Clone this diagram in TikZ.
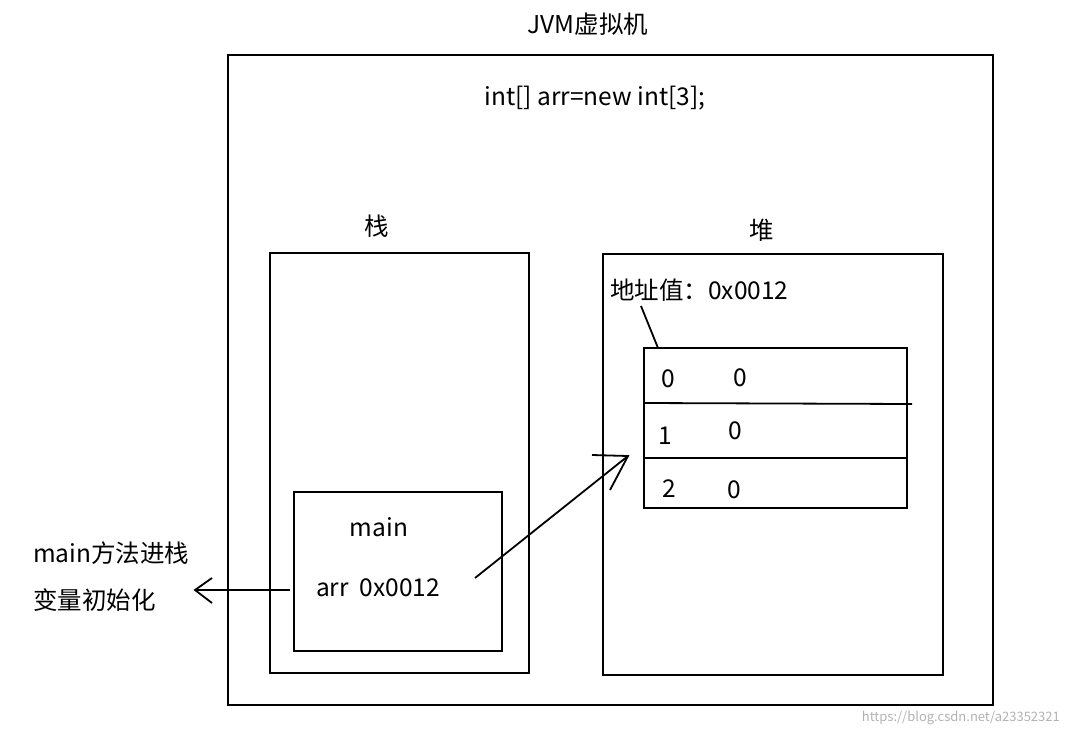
\documentclass[tikz,border=0pt]{standalone}
\usepackage{fontspec}
\setmainfont{Noto Sans CJK SC}
\begin{document}
\begin{tikzpicture}[x=1pt,y=-1pt,
  box/.style={draw,line width=2pt},
  lbl/.style={font=\fontsize{24.5}{28}\selectfont,inner sep=0pt},
  ln/.style={line width=1.8pt}]
\useasboundingbox (0,0) rectangle (1067,736);
\node[lbl] (title) at (588,24) {JVM虚拟机};
\draw[box] (228,55) rectangle (993,705);
\node[lbl] (code) at (595,98) {int[] arr=new int[3];};
\node[lbl] (zhan) at (377,226) {栈};
\draw[box] (270,253) rectangle (529,673);
\node[lbl] (dui) at (762,230) {堆};
\draw[box] (603,254) rectangle (943,675);
\node[lbl,anchor=west] (addr) at (610,290) {地址值：0x0012};
\draw[ln] (641,306) -- (658,348);
\draw[box] (644,348) rectangle (907,508);
\draw[ln] (644,403) -- (912,404);
\draw[ln] (644,458) -- (907,458);
\node[lbl] at (668,379) {0}; \node[lbl] at (740,378) {0};
\node[lbl] at (665,436) {1}; \node[lbl] at (735,431) {0};
\node[lbl] at (669,489) {2}; \node[lbl] at (734,490) {0};
\draw[box] (294,492) rectangle (502,651);
\node[lbl] (main) at (379,527) {main};
\node[lbl,anchor=west] (arr) at (316,588) {arr\ \ 0x0012};
\coordinate (a1) at (475,578); \coordinate (a2) at (628,456);
\draw[ln] (a1) -- (a2);
\draw[ln] (592,455) -- (a2) -- (610,490);
\coordinate (b1) at (290,590); \coordinate (b2) at (195,590);
\draw[ln] (b1) -- (b2);
\draw[ln] (212,578) -- (b2) -- (212,603);
\node[lbl,anchor=west] (t1) at (33,553) {main方法进栈};
\node[lbl,anchor=west] (t2) at (33,600) {变量初始化};
\node[inner sep=0pt,text=gray!60,font=\fontsize{13}{15}\selectfont,anchor=east] at (1060,718) {https://blog.csdn.net/a23352321};
\end{tikzpicture}
\end{document}
